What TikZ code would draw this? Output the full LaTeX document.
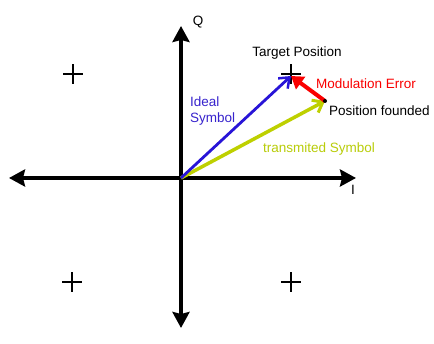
\documentclass[tikz,border=0pt]{standalone}
\usepackage{fontspec}
\setmainfont{Liberation Sans}
\usetikzlibrary{arrows.meta}
\definecolor{vblue}{RGB}{40,20,215}
\definecolor{vred}{RGB}{250,0,0}
\definecolor{vgreen}{RGB}{190,208,0}
\definecolor{tblue}{RGB}{55,35,205}
\definecolor{tgreen}{RGB}{185,205,10}
\tikzset{
  axis/.style={line width=4.5pt, black, -{Stealth[length=16pt,width=17pt,inset=2pt]}},
  plusmark/.style={draw=black, line width=2.3pt},
  lbl/.style={font=\fontsize{13.5}{16}\selectfont, inner sep=0pt},
}
\begin{document}
\begin{tikzpicture}[x=1pt,y=-1pt]
\useasboundingbox (0,0) rectangle (434,344);
\fill[white] (0,0) rectangle (434,344);
\coordinate (O) at (181,178);
\coordinate (top) at (181,26);
\coordinate (bot) at (181,328);
\coordinate (left) at (9,178);
\coordinate (right) at (356,178);
\draw[axis] (O) -- (top);
\draw[axis] (O) -- (bot);
\draw[axis] (O) -- (left);
\draw[axis] (O) -- (right);
\node[lbl] (Q) at (198,22) {Q};
\node[lbl] (I) at (353,190) {I};
% plus marks
\foreach \n/\x/\y in {p1/73/74, p2/291/74, p3/72/282, p4/291/282}{
  \coordinate (\n) at (\x,\y);
  \draw[plusmark] ([xshift=-10pt]\n) -- ([xshift=10pt]\n);
  \draw[plusmark] ([yshift=-10pt]\n) -- ([yshift=10pt]\n);
}
\coordinate (tgt) at (291,76);
\coordinate (fnd) at (325,101);
\draw[vgreen, line width=3.5pt, -{Straight Barb[length=9pt,width=14pt,line width=3pt]}] (O) -- (fnd);
\draw[vblue, line width=2.8pt, -{Straight Barb[length=9pt,width=14pt,line width=2.5pt]}] (O) -- (tgt);
\draw[vred, line width=4pt, -{Triangle[length=12pt,width=15pt]}] (fnd) -- (tgt);
\fill[black] (fnd) circle (2pt);
\node[lbl] (tp) at (297,53) {Target Position};
\node[lbl, text=vred] (me) at (366,84) {Modulation Error};
\node[lbl, anchor=west] (pf) at (329,111) {Position founded};
\node[lbl, text=tblue, align=left, anchor=north west] (is) at (190,97) {Ideal\\Symbol};
\node[lbl, text=tgreen] (ts) at (319,149) {transmited Symbol};
\end{tikzpicture}
\end{document}
